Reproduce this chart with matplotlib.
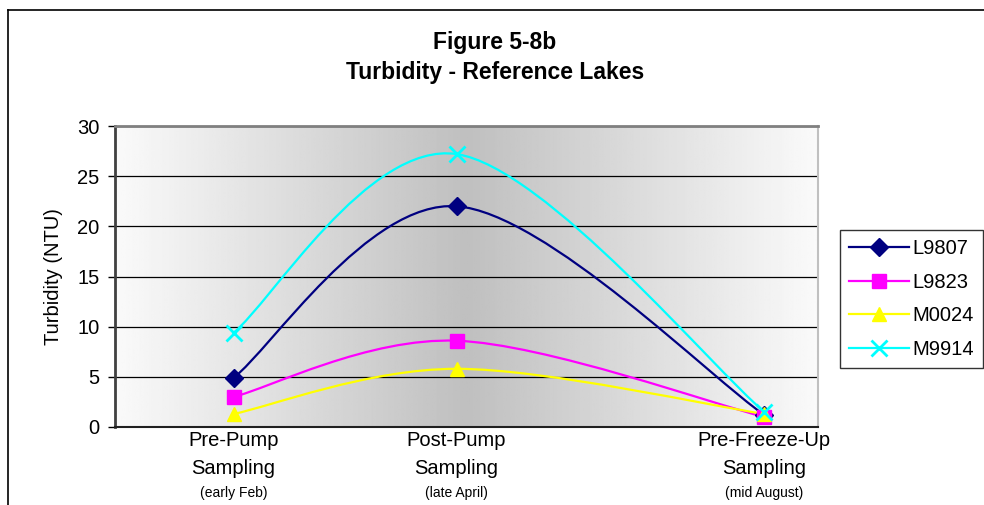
import numpy as np
import matplotlib
matplotlib.use('Agg')
import matplotlib.pyplot as plt
from matplotlib.path import Path
from matplotlib.patches import PathPatch
from matplotlib.lines import Line2D
from matplotlib.transforms import blended_transform_factory

plt.rcParams['font.family'] = ['Liberation Sans', 'DejaVu Sans']

# sampling events (day of year) and their labels
sample_day = [36, 115, 224]
event_names = [('Pre-Pump', 'Sampling'), ('Post-Pump', 'Sampling'),
               ('Pre-Freeze-Up', 'Sampling')]
event_dates = ['(early Feb)', '(late April)', '(mid August)']

# turbidity (NTU) per lake
lakes = ['L9807', 'L9823', 'M0024', 'M9914']
l9807 = [4.9, 22.0, 1.2]
l9823 = [3.0, 8.6, 1.0]
m0024 = [1.3, 5.8, 1.3]
m9914 = [9.4, 27.2, 1.5]

colors = ['#000080', '#FF00FF', '#FFFF00', '#00FFFF']
markers = ['D', 's', '^', 'x']
msizes = [9, 10, 10, 11]


def smooth_path(xs, ys):
    # Bezier segments through the points, same style as spreadsheet smoothed lines
    pts = np.column_stack([xs, ys]).astype(float)
    n = len(pts)
    verts = [pts[0]]
    codes = [Path.MOVETO]
    for i in range(n - 1):
        p_prev = pts[i - 1] if i > 0 else pts[i]
        p_next = pts[i + 2] if i + 2 < n else pts[i + 1]
        c1 = pts[i] + (pts[i + 1] - p_prev) / 6.0
        c2 = pts[i + 1] - (p_next - pts[i]) / 6.0
        verts += [c1, c2, pts[i + 1]]
        codes += [Path.CURVE4] * 3
    return Path(verts, codes)


fig = plt.figure(figsize=(9.84, 5.05), dpi=100)
ax = fig.add_axes([115 / 984, 1 - 427 / 505, 703 / 984, 301 / 505])

# horizontal gradient background: light at the edges, grey in the middle
u = np.linspace(0, 1, 400)
shade = 0.98 - (0.98 - 0.75) * (1 - np.abs(u - 0.5) / 0.5)
ax.imshow(shade[np.newaxis, :], cmap='gray', vmin=0, vmax=1, aspect='auto',
          extent=[0, 1, 0, 1], transform=ax.transAxes, zorder=0)

series = [l9807, l9823, m0024, m9914]
handles = []
for vals, c, m, ms, name in zip(series, colors, markers, msizes, lakes):
    ax.add_patch(PathPatch(smooth_path(sample_day, vals), facecolor='none',
                           edgecolor=c, lw=1.6, zorder=3))
    mew = 2 if m == 'x' else 1
    ax.plot(sample_day, vals, linestyle='none', marker=m, color=c,
            markersize=ms, markeredgewidth=mew, zorder=4)
    handles.append(Line2D([], [], color=c, lw=1.6, marker=m, markersize=ms,
                          markeredgewidth=mew, label=name))

ax.set_xlim(-6, 243)
ax.set_ylim(0, 30)
ax.set_yticks(range(0, 31, 5))
ax.tick_params(axis='y', labelsize=14.5, length=5, width=1, pad=6)
ax.set_xticks([])
ax.yaxis.grid(True, color='black', lw=0.9)
ax.set_axisbelow(True)
for gl in ax.get_ygridlines():
    gl.set_zorder(1)

ax.spines['left'].set_color('#404040')
ax.spines['left'].set_linewidth(2)
ax.spines['bottom'].set_color('#202020')
ax.spines['bottom'].set_linewidth(1.5)
ax.spines['top'].set_color('#808080')
ax.spines['top'].set_linewidth(2)
ax.spines['right'].set_color('#c0c0c0')
ax.spines['right'].set_linewidth(1.5)

ax.set_ylabel('Turbidity (NTU)', fontsize=14.5, labelpad=10)

# category labels under the axis
tr = blended_transform_factory(ax.transData, fig.transFigure)
for x, (line1, line2), date in zip(sample_day, event_names, event_dates):
    ax.text(x, 1 - 441 / 505, line1, transform=tr, ha='center', va='center',
            fontsize=14.5)
    ax.text(x, 1 - 468 / 505, line2, transform=tr, ha='center', va='center',
            fontsize=14.5)
    ax.text(x, 1 - 493 / 505, date, transform=tr, ha='center', va='center',
            fontsize=10)

fig.text(0.503, 1 - 42 / 505, 'Figure 5-8b', ha='center', va='center',
         fontsize=16.5, fontweight='bold')
fig.text(0.503, 1 - 72 / 505, 'Turbidity - Reference Lakes', ha='center',
         va='center', fontsize=16.5, fontweight='bold')

leg = fig.legend(handles=handles, loc='upper left',
                 bbox_to_anchor=(840 / 984, 1 - 230 / 505), fontsize=14.5,
                 handlelength=3.0, frameon=True, fancybox=False,
                 borderpad=0.45, labelspacing=0.72, handletextpad=0.15,
                 borderaxespad=0)
leg.get_frame().set_edgecolor('black')
leg.get_frame().set_linewidth(1)

# outer chart border (left and top edges)
fig.add_artist(Line2D([8 / 984, 8 / 984], [0, 1 - 10 / 505], color='black',
                      lw=1.2, transform=fig.transFigure))
fig.add_artist(Line2D([8 / 984, 1], [1 - 10 / 505, 1 - 10 / 505],
                      color='black', lw=1.2, transform=fig.transFigure))

fig.savefig('out.png', dpi=100)
